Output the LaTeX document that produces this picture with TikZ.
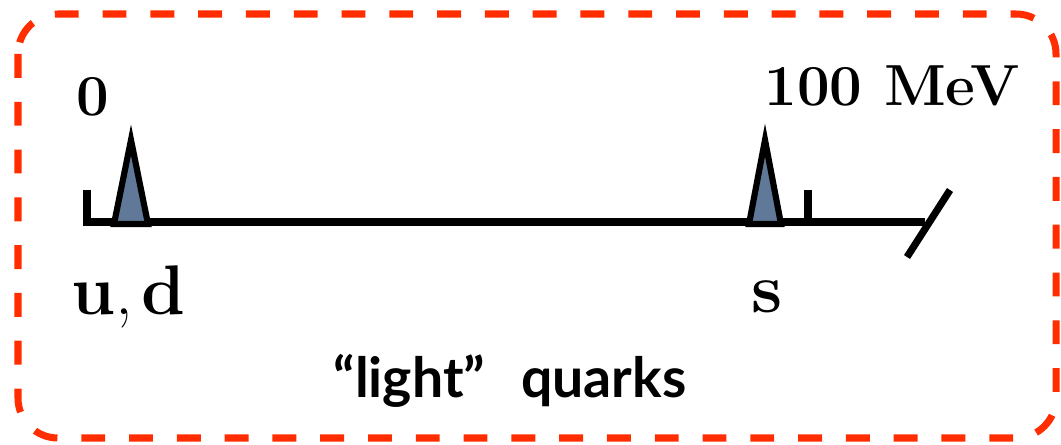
\documentclass[tikz,border=0pt]{standalone}
\usepackage{amsmath,amssymb}
\usepackage{fontspec}
\newfontfamily\labelfont{Lato}
\usepackage{tikz}
\usetikzlibrary{positioning}
\definecolor{myred}{RGB}{255,45,0}
\definecolor{mysteel}{RGB}{96,121,152}

\begin{document}
\begin{tikzpicture}[x=0.02cm,y=-0.02cm,
    frame/.style={draw=myred,line width=4pt,dash pattern=on 13.6pt off 13.6pt,rounded corners=0.8cm},
    axis/.style={line width=4.1pt,line cap=butt},
    peak/.style={draw=black,fill=mysteel,line width=3.5pt,line join=miter},
    num/.style={font=\bfseries\fontsize{33}{38}\selectfont,inner sep=0pt},
    flav/.style={font=\bfseries\fontsize{40}{46}\selectfont,inner sep=0pt},
    tag/.style={font=\labelfont\bfseries\fontsize{31.5}{38}\selectfont,inner sep=0pt}
  ]
  \useasboundingbox (0,0) rectangle (1061,444);
  \draw[frame] (18,14) rectangle (1056,438);

  % axis with ticks and break
  \coordinate (start) at (87,222);
  \coordinate (stop) at (925,222);
  \draw[axis] (87,190) -- (start) -- (stop);
  \draw[axis] (808,190) -- (808,222);
  \draw[axis] (907,257) -- (950,190);

  % mass peaks
  \draw[peak] (114,224) -- (131,140) -- (148,224) -- cycle;
  \draw[peak] (749,224) -- (765,140) -- (781,224) -- cycle;

  \node[num] (zero) at (93,97) {0};
  \node[num] (scale) at (892,86) {100 MeV};
  \node[flav] (ud) at (128,297) {u{\mdseries,}\kern0.12em d};
  \node[flav] (s) at (767,297) {s};
  \node[tag] (light) at (510,381) {“light”\ \ \,quarks};
\end{tikzpicture}
\end{document}
